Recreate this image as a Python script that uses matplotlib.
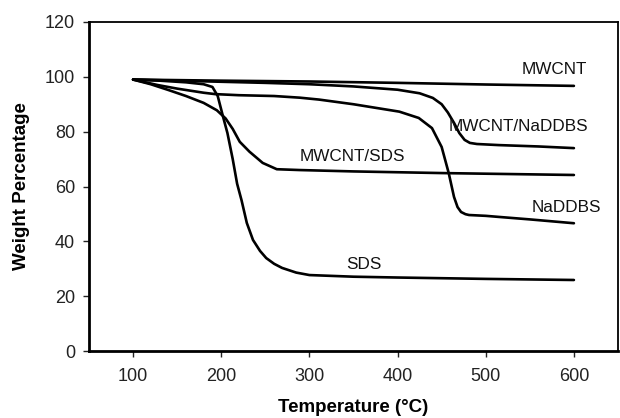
import matplotlib
matplotlib.use("Agg")
import matplotlib.pyplot as plt

plt.rcParams['font.family'] = ['Liberation Sans', 'DejaVu Sans']

# Data
t_mwcnt = [100, 150, 200, 300, 400, 500, 600]
w_mwcnt = [99.0, 98.8, 98.6, 98.3, 97.8, 97.2, 96.7]

t_mwcnt_naddbs = [100, 150, 200, 250, 300, 350, 400, 425, 440, 450, 457, 464, 470, 476, 482, 490, 515, 560, 600]
w_mwcnt_naddbs = [99.0, 98.6, 98.2, 97.8, 97.3, 96.5, 95.3, 94.0, 92.3, 90.0, 87.0, 83.2, 79.5, 77.0, 75.9, 75.5, 75.1, 74.6, 74.0]

t_naddbs = [100, 128, 150, 166, 180, 193, 220, 260, 289, 311, 350, 402, 424, 439, 450, 458, 464, 468, 472, 477, 481, 500, 515, 550, 600]
w_naddbs = [99.0, 97.0, 95.7, 94.9, 94.2, 93.7, 93.3, 93.0, 92.4, 91.7, 90.0, 87.3, 85.0, 81.3, 74.4, 64.9, 56.2, 52.5, 50.7, 49.9, 49.6, 49.3, 48.9, 48.0, 46.6]

t_mwcnt_sds = [100, 120, 140, 160, 180, 195, 205, 213, 221, 232, 247, 263, 289, 350, 450, 600]
w_mwcnt_sds = [99.0, 97.3, 95.2, 93.0, 90.5, 87.8, 84.8, 81.0, 76.3, 72.7, 68.6, 66.3, 66.0, 65.5, 64.9, 64.2]

t_sds = [100, 130, 160, 180, 190, 196, 202, 207, 213, 218, 223, 229, 236, 244, 251, 260, 269, 285, 300, 350, 400, 500, 600]
w_sds = [99.0, 98.6, 98.0, 97.3, 96.3, 93.0, 85.5, 79.5, 70.0, 61.0, 55.0, 46.7, 40.5, 36.5, 33.9, 31.8, 30.3, 28.6, 27.7, 27.1, 26.8, 26.3, 25.9]

labels = ["MWCNT", "MWCNT/NaDDBS", "MWCNT/SDS", "NaDDBS", "SDS"]
label_x = [578, 537, 349, 592, 362]
label_y = [102.5, 82.0, 70.8, 52.5, 31.4]

x_ticks = [100, 200, 300, 400, 500, 600]
y_ticks = [0, 20, 40, 60, 80, 100, 120]

fig = plt.figure(figsize=(6.2, 4.18), dpi=100)
ax = fig.add_axes([89/620, 1 - 351/418, (618 - 89)/620, (351 - 22)/418])

for t, w in [(t_mwcnt, w_mwcnt), (t_mwcnt_naddbs, w_mwcnt_naddbs), (t_naddbs, w_naddbs),
             (t_mwcnt_sds, w_mwcnt_sds), (t_sds, w_sds)]:
    ax.plot(t, w, color='black', lw=1.9, solid_capstyle='round', solid_joinstyle='round')

for lab, x, y in zip(labels, label_x, label_y):
    ax.text(x, y, lab, ha='center', va='center', fontsize=12.3, color='#111111')

ax.set_xlim(50, 650)
ax.set_ylim(0, 120)
ax.set_xticks(x_ticks)
ax.set_yticks(y_ticks)
ax.tick_params(axis='both', direction='out', length=4, width=1, labelsize=13, colors='#222222')
ax.tick_params(axis='x', pad=8)
ax.tick_params(axis='y', pad=6)

for s in ['left', 'bottom']:
    ax.spines[s].set_linewidth(2.0)
for s in ['top', 'right']:
    ax.spines[s].set_linewidth(1.3)

ax.set_xlabel('Temperature (°C)', fontsize=13.5, fontweight='bold', va='center')
ax.set_ylabel('Weight Percentage', fontsize=13.5, fontweight='bold', va='center')
ax.xaxis.set_label_coords(0.5, -(408 - 351) / 329)
ax.yaxis.set_label_coords(-(89 - 22) / 529, 0.5)

fig.savefig('out.png', dpi=100)
